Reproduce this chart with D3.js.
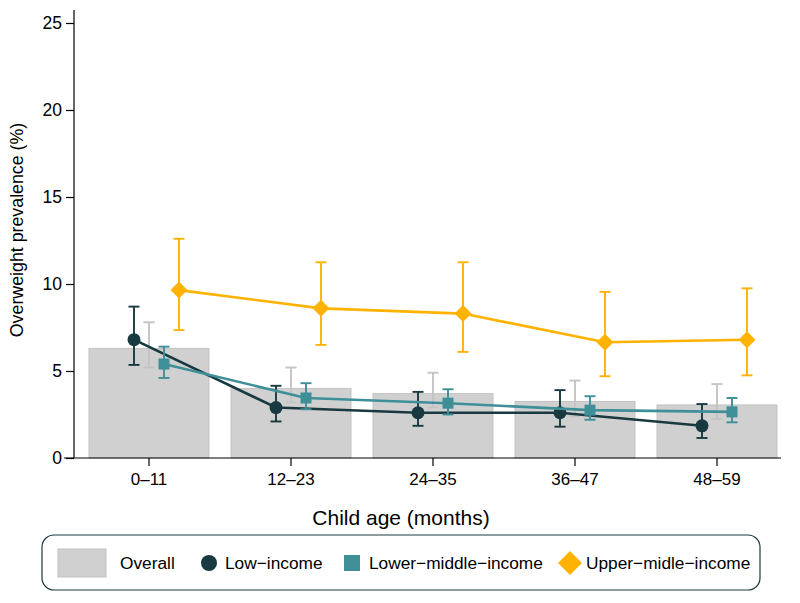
<!DOCTYPE html>
<html>
<head>
<meta charset="utf-8">
<script src="https://cdn.jsdelivr.net/npm/d3@7"></script>
<style>
  html, body { margin: 0; padding: 0; background: #fff; }
  svg { display: block; }
  text { font-family: "Liberation Sans", Arial, Helvetica, sans-serif; fill: #000; }
</style>
</head>
<body>
<svg id="chart" width="800" height="603"></svg>
<script>
// ---------- data ----------
const categories = ["0–11", "12–23", "24–35", "36–47", "48–59"];
const yTicks = [0, 5, 10, 15, 20, 25];

const overall   = [6.3, 4.0, 3.7, 3.25, 3.05];
const overallLo = [5.2, 3.2, 2.9, 2.4, 2.25];
const overallHi = [7.8, 5.2, 4.9, 4.45, 4.25];

const lowIncome   = [6.8, 2.9, 2.6, 2.6, 1.85];
const lowIncomeLo = [5.35, 2.1, 1.85, 1.8, 1.15];
const lowIncomeHi = [8.7, 4.15, 3.8, 3.9, 3.1];

const lowerMiddle   = [5.4, 3.45, 3.15, 2.75, 2.65];
const lowerMiddleLo = [4.6, 2.8, 2.5, 2.2, 2.05];
const lowerMiddleHi = [6.4, 4.3, 3.95, 3.55, 3.45];

const upperMiddle   = [9.65, 8.6, 8.3, 6.65, 6.8];
const upperMiddleLo = [7.35, 6.5, 6.1, 4.7, 4.75];
const upperMiddleHi = [12.6, 11.25, 11.25, 9.55, 9.75];

const seriesKeys = ["low", "overall", "lowerMiddle", "upperMiddle"];
const legendLabels = ["Overall", "Low−income", "Lower−middle−income", "Upper−midle−income"];

// ---------- styling ----------
const colBarFill = "#d0d0d0", colBarStroke = "#c2c2c2", colOverallErr = "#c4c4c4";
const colLow = "#183940", colLM = "#3f8f99", colUM = "#ffb300";
const FONT = "'Liberation Sans', Arial, sans-serif";

const svg = d3.select("#chart");

const x = d3.scaleBand().domain(categories).range([78, 788]).paddingInner(0.155).paddingOuter(0.0775);
const y = d3.scaleLinear().domain([0, 25]).range([458, 23]);
const off = d3.scalePoint().domain(seriesKeys).range([-15, 30]);
const cx = (c, key) => x(c) + x.bandwidth() / 2 + off(key);

// bars
svg.append("g").selectAll("rect").data(categories).join("rect")
  .attr("x", c => x(c)).attr("width", x.bandwidth())
  .attr("y", (c, i) => y(overall[i])).attr("height", (c, i) => y(0) - y(overall[i]))
  .attr("fill", colBarFill).attr("stroke", colBarStroke).attr("stroke-width", 1);

// axes
const yAxisG = svg.append("g").attr("transform", "translate(74,0)")
  .call(d3.axisLeft(y).tickValues(yTicks).tickSize(8).tickPadding(4));
yAxisG.select(".domain").remove();
yAxisG.append("line").attr("x1", 0).attr("x2", 0).attr("y1", 10).attr("y2", 458)
  .attr("stroke", "#000").attr("stroke-width", 1.2);
yAxisG.selectAll(".tick line").attr("stroke", "#000").attr("stroke-width", 1.2);
yAxisG.selectAll(".tick text").attr("font-size", 17.5).attr("fill", "#000").style("font-family", FONT);

const xAxisG = svg.append("g").attr("transform", "translate(0,458)")
  .call(d3.axisBottom(x).tickSize(8).tickPadding(7));
xAxisG.select(".domain").remove();
xAxisG.append("line").attr("x1", 64).attr("x2", 781).attr("y1", 0).attr("y2", 0)
  .attr("stroke", "#000").attr("stroke-width", 1.2);
xAxisG.selectAll(".tick line").attr("stroke", "#000").attr("stroke-width", 1.2);
xAxisG.selectAll(".tick text").attr("font-size", 17).attr("fill", "#000").style("font-family", FONT);

// axis titles
svg.append("text").attr("x", 401).attr("y", 525).attr("text-anchor", "middle")
  .attr("font-size", 21).text("Child age (months)");
svg.append("text").attr("transform", "translate(23,230) rotate(-90)").attr("text-anchor", "middle")
  .attr("font-size", 17.8).text("Overweight prevalence (%)");

// error bar helper
function errorBars(key, lo, hi, color, width) {
  const g = svg.append("g").attr("stroke", color).attr("stroke-width", width).attr("fill", "none");
  categories.forEach((c, i) => {
    const px = cx(c, key);
    g.append("line").attr("x1", px).attr("x2", px).attr("y1", y(lo[i])).attr("y2", y(hi[i]));
    g.append("line").attr("x1", px - 5.5).attr("x2", px + 5.5).attr("y1", y(lo[i])).attr("y2", y(lo[i]));
    g.append("line").attr("x1", px - 5.5).attr("x2", px + 5.5).attr("y1", y(hi[i])).attr("y2", y(hi[i]));
  });
}
function seriesLine(key, vals, color) {
  const line = d3.line().x((v, i) => cx(categories[i], key)).y(v => y(v));
  svg.append("path").datum(vals).attr("d", line).attr("fill", "none")
    .attr("stroke", color).attr("stroke-width", 2.6);
}

errorBars("overall", overallLo, overallHi, colOverallErr, 1.9);

errorBars("low", lowIncomeLo, lowIncomeHi, colLow, 1.9);
seriesLine("low", lowIncome, colLow);
svg.append("g").selectAll("circle").data(lowIncome).join("circle")
  .attr("cx", (v, i) => cx(categories[i], "low")).attr("cy", v => y(v)).attr("r", 6.5).attr("fill", colLow);

errorBars("lowerMiddle", lowerMiddleLo, lowerMiddleHi, colLM, 1.9);
seriesLine("lowerMiddle", lowerMiddle, colLM);
svg.append("g").selectAll("rect").data(lowerMiddle).join("rect")
  .attr("x", (v, i) => cx(categories[i], "lowerMiddle") - 5.5).attr("y", v => y(v) - 5.5)
  .attr("width", 11).attr("height", 11).attr("fill", colLM);

errorBars("upperMiddle", upperMiddleLo, upperMiddleHi, colUM, 1.9);
seriesLine("upperMiddle", upperMiddle, colUM);
svg.append("g").selectAll("path").data(upperMiddle).join("path")
  .attr("d", "M0,-8.5L8.5,0L0,8.5L-8.5,0Z")
  .attr("transform", (v, i) => `translate(${cx(categories[i], "upperMiddle")},${y(v)})`)
  .attr("fill", colUM);

// legend
const lg = svg.append("g");
lg.append("rect").attr("x", 42).attr("y", 535).attr("width", 718).attr("height", 55).attr("rx", 12)
  .attr("fill", "#fff").attr("stroke", "#1c3a40").attr("stroke-width", 1.2);
const ly = 563;
lg.append("rect").attr("x", 58).attr("y", ly - 14).attr("width", 48).attr("height", 28)
  .attr("fill", colBarFill).attr("stroke", colBarStroke);
lg.append("circle").attr("cx", 209).attr("cy", ly).attr("r", 8).attr("fill", colLow);
lg.append("rect").attr("x", 344).attr("y", ly - 8).attr("width", 16).attr("height", 16).attr("fill", colLM);
lg.append("path").attr("d", "M0,-12L12,0L0,12L-12,0Z").attr("transform", `translate(570,${ly})`).attr("fill", colUM);
const legendX = [120, 225, 369, 586];
lg.selectAll("text.lab").data(legendLabels).join("text").attr("class", "lab")
  .attr("x", (d, i) => legendX[i]).attr("y", ly).attr("dy", "0.35em")
  .attr("font-size", 17.3).text(d => d);
</script>
</body>
</html>
